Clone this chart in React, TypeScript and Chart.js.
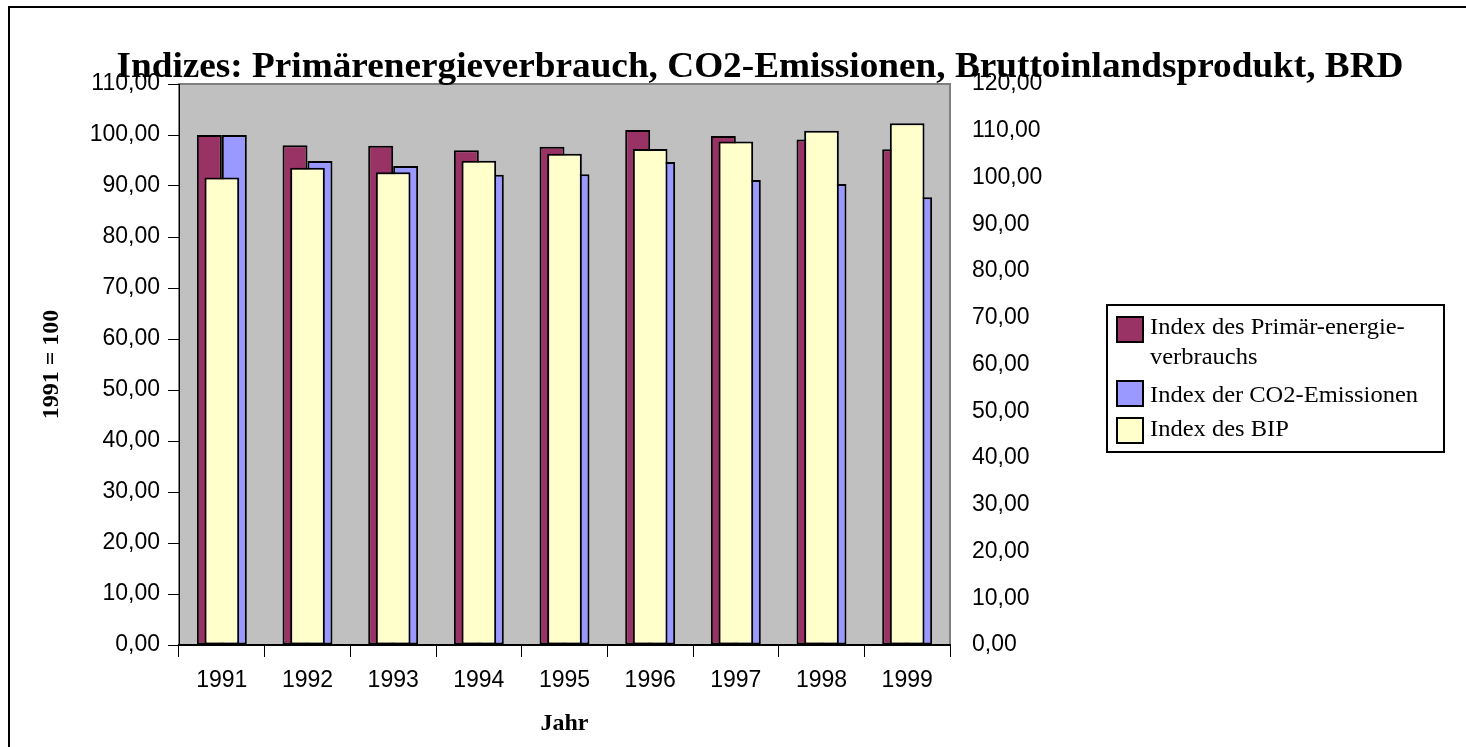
import React, { useEffect, useRef } from "react";
import { Chart, registerables } from "chart.js";

Chart.register(...registerables);

const categories = ["1991", "1992", "1993", "1994", "1995", "1996", "1997", "1998", "1999"];
const primaryEnergy = [100.0, 98.0, 97.9, 97.0, 97.7, 101.0, 99.8, 99.1, 97.2];
const co2Emissions = [100.0, 94.9, 93.9, 92.2, 92.3, 94.7, 91.2, 90.4, 87.8];
const gdpIndex = [100.0, 102.1, 101.1, 103.6, 105.1, 106.1, 107.7, 110.0, 111.6];
const seriesLegendLines = [
  ["Index des Primär-energie-", "verbrauchs"],
  ["Index der CO2-Emissionen"],
  ["Index des BIP"],
];
const chartTitle = "Indizes: Primärenergieverbrauch, CO2-Emissionen, Bruttoinlandsprodukt, BRD";
const leftAxisTitle = "1991 = 100";
const xAxisTitle = "Jahr";

const colors = ["#993366", "#9999FF", "#FFFFCC"];
const SANS = "'Liberation Sans', Arial, sans-serif";
const SERIF = "'Liberation Serif', 'Times New Roman', serif";

const fmt = (v: number | string) => Number(v).toFixed(2).replace(".", ",");

function fillStretched(ctx: CanvasRenderingContext2D, text: string, x: number, y: number, targetWidth: number, align: "left" | "center") {
  const w = ctx.measureText(text).width;
  const sx = targetWidth / w;
  ctx.save();
  ctx.translate(x, y);
  ctx.scale(sx, 1);
  ctx.textAlign = align;
  ctx.fillText(text, 0, 0);
  ctx.restore();
}

export default function App() {
  const ref = useRef<HTMLCanvasElement | null>(null);

  useEffect(() => {
    if (!ref.current) return;

    const decor = {
      id: "decor",
      beforeDraw(chart: any) {
        const { ctx, chartArea: a } = chart;
        ctx.save();
        ctx.fillStyle = "#ffffff";
        ctx.fillRect(0, 0, chart.width, chart.height);
        ctx.fillStyle = "#C0C0C0";
        ctx.fillRect(a.left, a.top, a.right - a.left, a.bottom - a.top);
        ctx.strokeStyle = "#808080";
        ctx.lineWidth = 2;
        ctx.strokeRect(a.left, a.top, a.right - a.left, a.bottom - a.top);
        ctx.restore();
      },
      afterDraw(chart: any) {
        const { ctx } = chart;
        ctx.save();
        // outer frame
        ctx.fillStyle = "#000";
        ctx.fillRect(8, 6, 2, chart.height);
        ctx.fillRect(8, 6, chart.width, 2);
        // title
        ctx.font = "bold 36px " + SERIF;
        ctx.textBaseline = "alphabetic";
        fillStretched(ctx, chartTitle, 760, 77, 1287, "center");
        // legend
        const lx = 1107, ly = 305, lw = 337, lh = 147;
        ctx.lineWidth = 2;
        ctx.strokeStyle = "#000";
        ctx.strokeRect(lx, ly, lw, lh);
        ctx.font = "24px " + SERIF;
        ctx.textBaseline = "alphabetic";
        const swatchTops = [317, 381, 418];
        const baselines = [334, 402, 436];
        const ref0 = ctx.measureText(seriesLegendLines[1][0]).width;
        const sx = 268 / ref0;
        chart.data.datasets.forEach((ds: any, i: number) => {
          ctx.fillStyle = ds.backgroundColor;
          ctx.fillRect(1117, swatchTops[i], 26, 25);
          ctx.strokeRect(1117, swatchTops[i], 26, 25);
          ctx.fillStyle = "#000";
          seriesLegendLines[i].forEach((line, j) => {
            const w = ctx.measureText(line).width * sx;
            fillStretched(ctx, line, 1150, baselines[i] + j * 30, w, "left");
          });
        });
        ctx.restore();
      },
    };

    const chart = new Chart(ref.current, {
      type: "bar",
      data: {
        labels: categories,
        datasets: [
          {
            label: seriesLegendLines[0].join(""),
            data: primaryEnergy,
            backgroundColor: colors[0],
            borderColor: "#000",
            borderWidth: 2,
            borderSkipped: false,
            yAxisID: "y",
            order: 1,
            categoryPercentage: 0.583,
            barPercentage: 1,
          },
          {
            label: seriesLegendLines[1].join(""),
            data: co2Emissions,
            backgroundColor: colors[1],
            borderColor: "#000",
            borderWidth: 2,
            borderSkipped: false,
            yAxisID: "y",
            order: 1,
            categoryPercentage: 0.583,
            barPercentage: 1,
          },
          {
            label: seriesLegendLines[2].join(""),
            data: gdpIndex,
            backgroundColor: colors[2],
            borderColor: "#000",
            borderWidth: 2,
            borderSkipped: false,
            yAxisID: "y2",
            order: 0,
            grouped: false,
            categoryPercentage: 1,
            barPercentage: 0.405,
          },
        ],
      } as any,
      options: {
        responsive: false,
        animation: false,
        layout: { padding: { left: 0, top: 84, right: 416, bottom: 0 } },
        plugins: {
          legend: { display: false },
          title: { display: false },
          tooltip: { enabled: false },
        },
        scales: {
          x: {
            offset: true,
            grid: { drawOnChartArea: false, offset: true, tickLength: 12, color: "#000", lineWidth: 1 },
            border: { display: true, color: "#000", width: 2 },
            ticks: { color: "#000", font: { family: SANS, size: 23 }, padding: 10, maxRotation: 0 },
            title: {
              display: true,
              text: xAxisTitle,
              color: "#000",
              font: { family: SERIF, size: 24, weight: "bold" },
              padding: { top: 0, bottom: 9 },
            },
            afterFit: (s: any) => { s.height = 102; },
          },
          y: {
            position: "left",
            min: 0,
            max: 110,
            grid: { drawOnChartArea: false, tickLength: 11, color: "#000", lineWidth: 1 },
            border: { display: true, color: "#000", width: 1 },
            ticks: { stepSize: 10, color: "#000", font: { family: SANS, size: 23 }, padding: 8, callback: (v: any) => fmt(v) },
            title: {
              display: true,
              text: leftAxisTitle,
              color: "#000",
              font: { family: SERIF, size: 24, weight: "bold" },
              padding: { top: 37, bottom: 0 },
            },
            afterFit: (s: any) => { s.width = 179; },
          },
          y2: {
            position: "right",
            min: 0,
            max: 120,
            grid: { drawOnChartArea: false, drawTicks: false, color: "rgba(0,0,0,0)" },
            border: { display: false },
            ticks: { stepSize: 10, color: "#000", font: { family: SANS, size: 23 }, padding: 22, callback: (v: any) => fmt(v) },
            afterFit: (s: any) => { s.width = 100; },
          },
        },
      } as any,
      plugins: [decor],
    });

    return () => chart.destroy();
  }, []);

  return (
    <div style={{ position: "absolute", left: 0, top: 0, width: 1466, height: 747 }}>
      <canvas ref={ref} width={1466} height={747} style={{ width: 1466, height: 747, display: "block" }} />
    </div>
  );
}
